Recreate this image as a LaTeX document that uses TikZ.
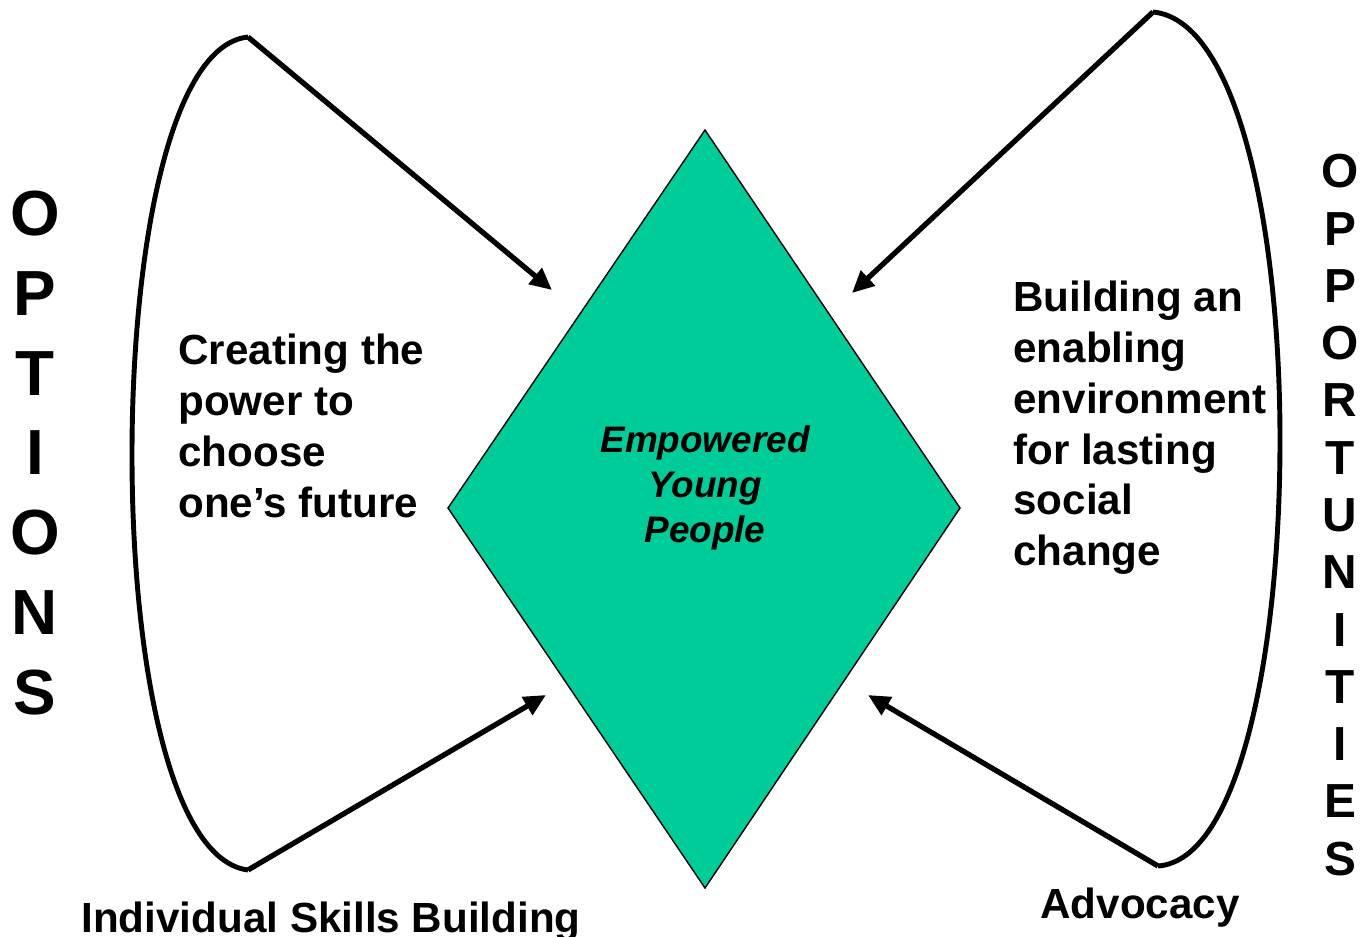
\documentclass[tikz,border=0pt]{standalone}
\usepackage{fontspec}
\setmainfont{Liberation Sans}
\usetikzlibrary{arrows.meta}

\begin{document}
\begin{tikzpicture}[x=0.02cm, y=-0.02cm,
	bigtext/.style={font=\bfseries\fontsize{24}{28.9}\selectfont, align=left, inner sep=0},
	pointer/.style={line width=3pt, -{Triangle[length=0.44cm, width=0.4cm]}},
	bracket/.style={line width=2.8pt}]
	\useasboundingbox (0,0) rectangle (1367,937);
	% centre diamond
	\draw[fill={rgb,255:red,0;green,204;blue,153}, line width=0.8pt] (705,130) -- (960,508) -- (705,888) -- (448,508) -- cycle;
	\node[font=\bfseries\itshape\fontsize{21}{25.5}\selectfont, align=center, inner sep=0] (young) at (705,488) {Empowered\\Young\\People};
	% end points of the two brackets and arrow tips
	\coordinate (ltop) at (248,37);
	\coordinate (lbot) at (248,870);
	\coordinate (rtop) at (1153,12);
	\coordinate (rbot) at (1158,866);
	\coordinate (tipA) at (552,290);
	\coordinate (tipB) at (546,695);
	\coordinate (tipC) at (852,293);
	\coordinate (tipD) at (868,695);
	\draw[bracket] (ltop) .. controls (170,45) and (132,250) .. (132,455) .. controls (132,660) and (170,860) .. (lbot);
	\draw[bracket] (rtop) .. controls (1238,20) and (1280,230) .. (1280,440) .. controls (1280,650) and (1240,860) .. (rbot);
	\draw[pointer] (ltop) -- (tipA);
	\draw[pointer] (lbot) -- (tipB);
	\draw[pointer] (rtop) -- (tipC);
	\draw[pointer] (rbot) -- (tipD);
	% texts
	\node[bigtext, anchor=west] (power) at (178,426) {Creating the\\power to\\choose\\one’s future};
	\node[bigtext, anchor=west] (enable) at (1013,428) {Building an\\enabling\\environment\\for lasting\\social\\change};
	\node[bigtext, anchor=base] (skills) at (331,932) {Individual Skills Building};
	\node[bigtext, anchor=base] (advocacy) at (1140,918) {Advocacy};
	\node[font=\bfseries\fontsize{36.3}{45.4}\selectfont, align=center, inner sep=0] (options) at (35,453) {O\\P\\T\\I\\O\\N\\S};
	\node[font=\bfseries\fontsize{27.2}{32.6}\selectfont, align=center, inner sep=0] (opport) at (1340,515) {O\\P\\P\\O\\R\\T\\U\\N\\I\\T\\I\\E\\S};
\end{tikzpicture}
\end{document}
